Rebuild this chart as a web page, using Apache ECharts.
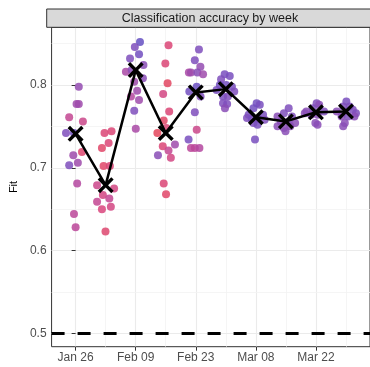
<!DOCTYPE html>
<html>
<head>
<meta charset="utf-8">
<script src="https://cdn.jsdelivr.net/npm/echarts@6/dist/echarts.min.js"></script>
<style>
html,body{margin:0;padding:0;background:#fff;}
#chart{width:370px;height:367px;}
</style>
</head>
<body>
<div id="chart"></div>
<script>
// ---- data ----
const titleText = 'Classification accuracy by week';
const yAxisName = 'Fit';
// week positions in days relative to Jan 26
const weekDays = [0, 7, 14, 21, 28, 35, 42, 49, 56, 63];
// weekly fitted accuracy (X markers)
const weekFit = [0.741, 0.679, 0.818, 0.742, 0.791, 0.795, 0.761, 0.756, 0.767, 0.768];
// individual accuracies per week
const pointValues = [
  [0.798, 0.777, 0.777, 0.761, 0.756, 0.742, 0.742, 0.719, 0.715, 0.703, 0.706, 0.681, 0.644, 0.628],
  [0.742, 0.744, 0.730, 0.724, 0.702, 0.702, 0.679, 0.675, 0.667, 0.663, 0.659, 0.650, 0.653, 0.623],
  [0.852, 0.846, 0.837, 0.832, 0.824, 0.816, 0.818, 0.808, 0.804, 0.793, 0.786, 0.782, 0.769, 0.747],
  [0.848, 0.826, 0.802, 0.789, 0.768, 0.757, 0.742, 0.748, 0.726, 0.728, 0.721, 0.715, 0.712, 0.681, 0.668],
  [0.843, 0.830, 0.822, 0.815, 0.815, 0.815, 0.813, 0.792, 0.798, 0.786, 0.767, 0.746, 0.734, 0.724, 0.724, 0.724],
  [0.813, 0.811, 0.807, 0.800, 0.800, 0.798, 0.794, 0.792, 0.786, 0.786, 0.778, 0.777, 0.772],
  [0.778, 0.776, 0.772, 0.764, 0.764, 0.760, 0.759, 0.759, 0.758, 0.754, 0.752, 0.734],
  [0.772, 0.766, 0.762, 0.762, 0.756, 0.756, 0.754, 0.750, 0.750, 0.748, 0.744],
  [0.778, 0.776, 0.772, 0.768, 0.768, 0.764, 0.764, 0.766, 0.754, 0.752],
  [0.780, 0.774, 0.774, 0.768, 0.770, 0.766, 0.762, 0.762, 0.762, 0.754, 0.750]
];
// horizontal jitter (days) of each point
const pointJitter = [
  [0.74, 0.22, 0.74, -1.5, 1.7, -2.24, -0.38, 1.48, -0.54, -1.5, 0.52, 0.36, -0.38, 0],
  [-0.27, 1.37, 0.69, -0.87, -0.49, 0.99, -2.0, 1.97, -0.65, 0.85, -2.0, -0.87, 1.21, -0.04],
  [1.0, -0.2, 0.78, -1.32, 1.81, -2.28, -0.94, 1.68, -0.34, 0.34, -1.1, 0.78, -0.34, 0.02],
  [0.65, -0.09, 0.43, -0.6, 0.81, -0.47, -1.95, 0.13, -0.69, 2.15, 0.65, -1.81, 1.19, -0.47, 0.07],
  [0.74, -0.22, 1.08, -1.61, -1.12, 0.36, 1.7, -1.5, 0.22, 1.12, -0.22, 0.22, -1.68, -1.12, -0.22, 0.85],
  [-0.27, 0.92, -1.1, -1.39, 0.09, 1.43, -2.15, 1.97, -0.65, 0.47, -0.65, 0.31, -0.2],
  [0.18, 0.92, -0.56, -1.68, 1.68, -2.06, -0.94, 0.56, 2.04, -0.56, 0.4, -0.2],
  [0.65, -0.47, -1.95, 1.41, -1.21, 0.65, 2.15, -1.95, 1.03, -0.47, -0.09],
  [0.16, 0.76, -0.74, -2.22, 1.88, -1.1, 0.38, -2.6, -0.13, 0.38],
  [0.09, -0.65, 0.85, -2.15, 1.59, 2.33, -1.03, 0.47, 1.97, -0.27, -0.65]
];
// colour shade of each point (0 = red, 1 = blue)
const pointShade = [
  [0.65, 0.6, 0.6, 0.4, 0.35, 0.75, 0.85, 0.15, 0.6, 0.75, 0.6, 0.5, 0.45, 0.45],
  [0.2, 0.2, 0.2, 0.1, 0.1, 0.2, 0.35, 0.3, 0.3, 0.4, 0.4, 0.25, 0.3, 0.15],
  [0.95, 0.75, 0.85, 0.75, 0.7, 0.55, 0.7, 0.7, 0.6, 0.6, 0.5, 0.6, 0.75, 0.55],
  [0.2, 0.2, 0.05, 0.3, 0.2, 0.08, 0.0, 0.2, 0.2, 0.6, 0.4, 0.7, 0.3, 0.2, 0.1],
  [0.75, 0.75, 0.65, 0.55, 0.6, 0.7, 0.6, 0.85, 0.9, 0.75, 0.75, 0.35, 0.8, 0.45, 0.45, 0.5],
  [0.8, 0.8, 0.75, 0.85, 0.85, 0.8, 0.8, 0.75, 0.8, 0.75, 0.75, 0.75, 0.7],
  [0.85, 0.8, 0.85, 0.8, 0.8, 0.75, 0.8, 0.8, 0.75, 0.75, 0.8, 0.8],
  [0.75, 0.75, 0.7, 0.75, 0.7, 0.75, 0.7, 0.7, 0.7, 0.7, 0.7],
  [0.75, 0.7, 0.75, 0.7, 0.75, 0.7, 0.7, 0.7, 0.7, 0.7],
  [0.8, 0.75, 0.75, 0.7, 0.75, 0.75, 0.7, 0.75, 0.7, 0.7, 0.7]
];
const chanceLevel = 0.5;
const xTickDays = [0, 14, 28, 42, 56];
const xTickLabels = ['Jan 26', 'Feb 09', 'Feb 23', 'Mar 08', 'Mar 22'];
const xMinorDays = [7, 21, 35, 49, 63];
const yTicks = [0.5, 0.6, 0.7, 0.8];
const yMinorTicks = [0.55, 0.65, 0.75, 0.85];

// ---- build ----
const scatterData = [];
pointValues.forEach((vals, i) => {
  vals.forEach((v, j) => {
    scatterData.push([weekDays[i] + pointJitter[i][j], v, pointShade[i][j]]);
  });
});
const meanData = weekDays.map((d, i) => [d, weekFit[i]]);

const gridLines = [];
xTickDays.forEach(d => gridLines.push({xAxis: d, lineStyle: {color: '#ebebeb', width: 1.1, type: 'solid'}}));
xMinorDays.forEach(d => gridLines.push({xAxis: d, lineStyle: {color: '#f3f3f3', width: 0.8, type: 'solid'}}));
yTicks.forEach(v => gridLines.push({yAxis: v, lineStyle: {color: '#ebebeb', width: 1.1, type: 'solid'}}));
yMinorTicks.forEach(v => gridLines.push({yAxis: v, lineStyle: {color: '#f3f3f3', width: 0.8, type: 'solid'}}));

const X_PATH = 'path://M1.5,0L5,3.5L8.5,0L10,1.5L6.5,5L10,8.5L8.5,10L5,6.5L1.5,10L0,8.5L3.5,5L0,1.5Z';

const chart = echarts.init(document.getElementById('chart'), null, {renderer: 'canvas'});
chart.setOption({
  animation: false,
  backgroundColor: '#ffffff',
  grid: {left: 46.7, top: 27.3, bottom: 20.3, right: -8, show: true, borderColor: '#333333', borderWidth: 1, backgroundColor: '#ffffff', containLabel: false},
  xAxis: {
    type: 'value', min: -5.6, max: 68.6,
    axisLine: {show: false},
    splitLine: {show: false},
    axisTick: {show: true, length: 4, lineStyle: {color: '#333333', width: 1}, customValues: xTickDays},
    axisLabel: {customValues: xTickDays, margin: 5, color: '#4d4d4d', fontSize: 12, fontFamily: 'Liberation Sans, Arial, sans-serif',
      formatter: v => { const k = xTickDays.indexOf(Math.round(v)); return k >= 0 ? xTickLabels[k] : ''; }}
  },
  yAxis: {
    type: 'value', min: 0.4838, max: 0.8697,
    name: yAxisName, nameLocation: 'middle', nameGap: 26,
    nameTextStyle: {color: '#000000', fontSize: 11, fontFamily: 'Liberation Sans, Arial, sans-serif'},
    axisLine: {show: false},
    splitLine: {show: false},
    axisTick: {show: true, length: 4, lineStyle: {color: '#333333', width: 1}, customValues: yTicks},
    axisLabel: {customValues: yTicks, margin: 5, color: '#4d4d4d', fontSize: 12, fontFamily: 'Liberation Sans, Arial, sans-serif',
      formatter: v => v.toFixed(1)}
  },
  visualMap: {
    show: false, type: 'continuous', min: 0, max: 1, dimension: 2, seriesIndex: 1,
    inRange: {color: ['#e4475c', '#d9457c', '#b448a0', '#7f4fbc', '#5f50c4']}
  },
  graphic: [
    {type: 'rect', shape: {x: 46.7, y: 9, width: 340, height: 18.3}, style: {fill: '#d9d9d9', stroke: '#333333', lineWidth: 1}, z: 10},
    {type: 'text', x: 210, y: 18.3, style: {text: titleText, fill: '#1a1a1a', font: '12.5px "Liberation Sans", Arial, sans-serif', textAlign: 'center', textVerticalAlign: 'middle'}, z: 11}
  ],
  series: [
    {
      type: 'line', data: [], silent: true, z: 0,
      markLine: {silent: true, z: 0, symbol: 'none', label: {show: false}, animation: false, data: gridLines.concat([
        {yAxis: chanceLevel, lineStyle: {color: '#000000', width: 3, type: [13, 13]}}
      ])}
    },
    {
      type: 'scatter', data: scatterData, symbol: 'circle', symbolSize: 8, z: 6,
      itemStyle: {opacity: 0.85, borderWidth: 0}
    },
    {
      type: 'line', data: meanData, z: 7,
      symbol: X_PATH, symbolSize: 16, symbolKeepAspect: true,
      itemStyle: {color: '#000000', borderWidth: 0},
      lineStyle: {color: '#000000', width: 2.5}
    }
  ]
});
</script>
</body>
</html>
